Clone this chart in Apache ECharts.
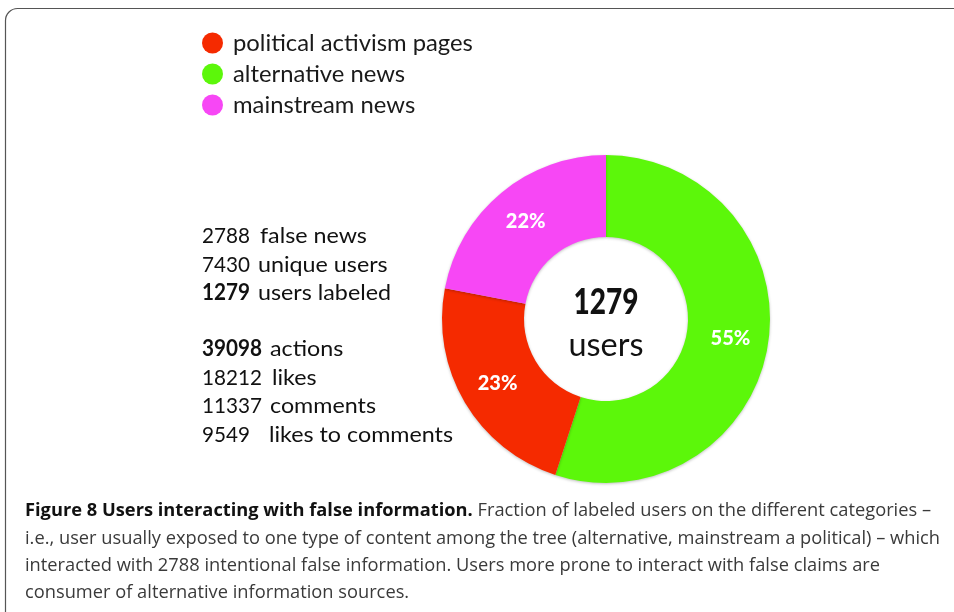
<!DOCTYPE html>
<html><head><meta charset="utf-8">
<script src="https://cdn.jsdelivr.net/npm/echarts@6/dist/echarts.min.js"></script>
<style>html,body{margin:0;padding:0;background:#fff}#c{width:954px;height:612px}</style>
</head><body><div id="c"></div>
<script>
// ---- data ----
const categories = ['alternative news', 'political activism pages', 'mainstream news'];
const shares = [55, 23, 22];
const legendOrder = ['political activism pages', 'alternative news', 'mainstream news'];
const usersLabeled = 1279;
const centerLabel = 'users';
const statNumbers = ['2788', '7430', '1279', '39098', '18212', '11337', '9549'];
const statLabels = ['false news', 'unique users', 'users labeled', 'actions', 'likes', 'comments', 'likes to comments'];
const statBold = [false, false, true, true, false, false, false];
const captionTitle = 'Figure 8 Users interacting with false information.';
const captionLines = [
  ' Fraction of labeled users on the different categories –',
  'i.e., user usually exposed to one type of content among the tree (alternative, mainstream a political) – which',
  'interacted with 2788 intentional false information. Users more prone to interact with false claims are',
  'consumer of alternative information sources.'
];

// ---- styles / layout ----
const colors = ['#5cf70a', '#f52a00', '#f747f5'];
const statY = [236, 265, 293, 349, 378, 406, 435];
const statLabelX = [260, 258, 258, 270, 272, 270, 269];
const captionY = [511, 538.5, 566, 593];

const ctx = document.createElement('canvas').getContext('2d');
function tw(text, font) { ctx.font = font; return ctx.measureText(text).width; }

const statFont = 'Lato';
const statFs = 22;
const statScale = 184 / tw('likes to comments', statFs + 'px ' + statFont);
const numScale = 48 / tw('2788', statFs + 'px ' + statFont);
const legendFs = 22 * 240 / tw('political activism pages', '22px Lato');

const capFs = 18.5;
const capFam = '"Open Sans"';
const capScale = 915 / tw(captionLines[1], capFs + 'px ' + capFam);

const graphics = [];
graphics.push({
  type: 'rect', z: 0, silent: true,
  shape: { x: 5.5, y: 8.5, width: 1000, height: 700, r: 12 },
  style: { fill: 'none', stroke: '#555', lineWidth: 1.2 }
});
statNumbers.forEach((n, i) => {
  graphics.push({
    type: 'text', x: 202, y: statY[i], scaleX: numScale,
    style: { text: n, x: 0, y: 0, fill: '#111', font: (statBold[i] ? 'bold ' : '') + statFs + 'px ' + statFont, verticalAlign: 'middle' }
  });
  graphics.push({
    type: 'text', x: statLabelX[i], y: statY[i], scaleX: statScale,
    style: { text: statLabels[i], x: 0, y: 0, fill: '#111', font: statFs + 'px ' + statFont, verticalAlign: 'middle' }
  });
});
graphics.push({
  type: 'text', x: 606, y: 302, scaleX: 65 / tw(String(usersLabeled), '900 36px Lato'),
  style: { text: String(usersLabeled), x: 0, y: 0, fill: '#111', font: '900 36px Lato', align: 'center', verticalAlign: 'middle' }
});
graphics.push({
  type: 'text', x: 606, y: 346, scaleX: 75 / tw(centerLabel, '32px Lato'),
  style: { text: centerLabel, x: 0, y: 0, fill: '#111', font: '32px Lato', align: 'center', verticalAlign: 'middle' }
});
captionLines.forEach((line, i) => {
  const text = i === 0 ? '{b|' + captionTitle + '}{r|' + line + '}' : '{r|' + line + '}';
  graphics.push({
    type: 'text', x: 25, y: captionY[i], scaleX: capScale,
    style: {
      text: text, x: 0, y: 0, verticalAlign: 'middle',
      rich: {
        b: { fontFamily: 'Open Sans', fontSize: capFs, fontWeight: 'bold', fill: '#111' },
        r: { fontFamily: 'Open Sans', fontSize: capFs, fill: '#3a3a3a' }
      }
    }
  });
});

const chart = echarts.init(document.getElementById('c'));
chart.setOption({
  animation: false,
  color: colors,
  legend: {
    data: legendOrder, orient: 'vertical', left: 202, top: 31, padding: 0,
    icon: 'circle', itemWidth: 21, itemHeight: 21, itemGap: 7, selectedMode: false,
    textStyle: { fontFamily: 'Lato', fontSize: legendFs, color: '#1a1a1a', padding: [0, 0, 0, 5] }
  },
  series: [{
    type: 'pie', center: [606, 319], radius: [82, 164], startAngle: 90, clockwise: true,
    avoidLabelOverlap: false, silent: true,
    itemStyle: { shadowBlur: 3, shadowColor: 'rgba(0,0,0,0.25)', shadowOffsetY: 1 },
    label: { show: true, position: 'inside', formatter: '{c}%', color: '#fff', fontFamily: 'Lato', fontWeight: 900, fontSize: 20 },
    labelLine: { show: false },
    data: categories.map((c, i) => ({ name: c, value: shares[i] }))
  }],
  graphic: graphics
});
</script></body></html>
